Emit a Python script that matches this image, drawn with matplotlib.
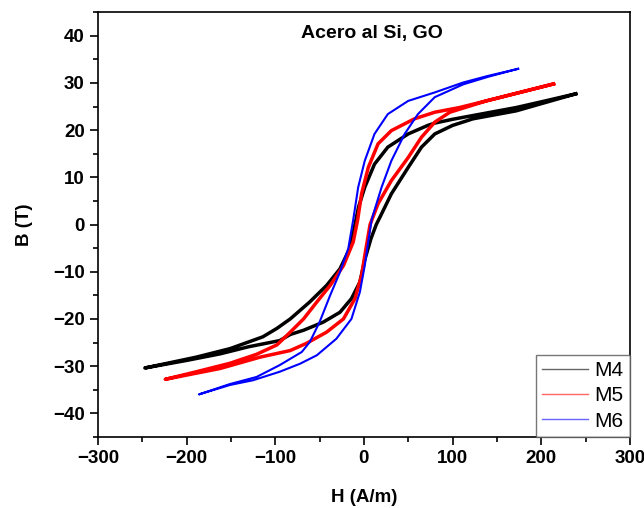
import matplotlib
matplotlib.use("Agg")
import matplotlib.pyplot as plt
from matplotlib.ticker import MultipleLocator

plt.rcParams['font.family'] = ['Liberation Sans', 'DejaVu Sans']

# M4 - upper branch (H decreasing) and lower branch (H increasing)
m4_up_h = [239, 200, 172, 123, 100, 80, 72, 50, 27, 12, 1, -6, -10, -16, -27, -42, -61, -83, -98, -114, -151, -189, -247]
m4_up_b = [27.7, 26.0, 24.8, 23.1, 22.3, 21.5, 21, 19.2, 16.4, 12.8, 7.9, 3.7, 0, -5.1, -9.4, -12.9, -16.4, -20, -22, -23.8, -26.3, -28.1, -30.4]
m4_lo_h = [-247, -200, -162, -130, -95, -83, -68, -46, -27, -14, -4.5, 1, 8, 14, 18, 31, 50, 65, 80, 100, 123, 172, 239]
m4_lo_b = [-30.4, -28.8, -27.4, -25.9, -24.6, -23.3, -22.4, -20.7, -18.6, -15.7, -12.2, -7.5, -3, 0, 1.5, 6.5, 12.1, 16.4, 19.2, 21, 22.4, 24.1, 27.7]

# M5
m5_up_h = [214, 153, 108, 80, 57, 31, 16, 5, -2.6, -7, -12, -23, -38, -53, -68, -83, -98, -121, -151, -189, -224]
m5_up_b = [29.8, 26.9, 24.8, 23.8, 22.4, 19.9, 17.1, 12.1, 6.5, 1, -3.7, -8.7, -12.9, -16.4, -20, -22.8, -25.5, -27.5, -29.4, -31.2, -32.8]
m5_lo_h = [-224, -162, -117, -83, -65, -42, -23, -10, -2.6, 2, 7, 16, 31, 50, 65, 80, 97, 138, 214]
m5_lo_b = [-32.8, -30.5, -28.1, -26.7, -25.2, -22.8, -20, -15.7, -10.8, -5.5, 0, 4.4, 9.3, 14.2, 18.5, 21.7, 23.8, 26.2, 29.8]

# M6
m6_up_h = [174, 140, 112, 80, 50, 27, 12, 1, -6.4, -12, -17.6, -27, -38, -50, -61, -70, -95, -121, -151, -186]
m6_up_b = [33, 31.5, 30.1, 28, 26.2, 23.4, 19.2, 13.5, 7.9, 1, -5.1, -10.1, -15, -20.7, -24.9, -27, -29.8, -32.3, -33.8, -36]
m6_lo_h = [-186, -151, -125, -95, -72, -53, -31, -14, -4.5, 1, 5, 9, 20, 31, 46, 61, 80, 112, 140, 174]
m6_lo_b = [-36, -34, -33, -31.2, -29.5, -27.7, -24.2, -20, -14.3, -8.7, -3.5, 1.2, 7.9, 13.5, 19.2, 23.4, 27, 29.7, 31.3, 33]

fig = plt.figure(figsize=(6.44, 5.08), dpi=100)
ax = fig.add_axes([0.152, 0.140, 0.826, 0.836])

ax.plot(m4_up_h + m4_lo_h, m4_up_b + m4_lo_b, color='black', lw=2.5, label='M4')
ax.plot(m5_up_h + m5_lo_h, m5_up_b + m5_lo_b, color='red', lw=2.5, label='M5')
ax.plot(m6_up_h + m6_lo_h, m6_up_b + m6_lo_b, color='blue', lw=1.5, label='M6')

ax.set_xlim(-300, 300)
ax.set_ylim(-45, 45)
ax.xaxis.set_major_locator(MultipleLocator(100))
ax.xaxis.set_minor_locator(MultipleLocator(50))
ax.yaxis.set_major_locator(MultipleLocator(10))
ax.yaxis.set_minor_locator(MultipleLocator(5))
ax.tick_params(which='major', direction='out', length=6, width=1.2, labelsize=13.5)
ax.tick_params(which='minor', direction='out', length=3.5, width=1.2)
for lab in ax.get_xticklabels() + ax.get_yticklabels():
    lab.set_fontweight('bold')
for sp in ax.spines.values():
    sp.set_linewidth(1.2)

ax.set_xlabel('H (A/m)', fontsize=13.5, fontweight='bold', labelpad=16)
ax.set_ylabel('B (T)', fontsize=13.5, fontweight='bold', labelpad=14)
ax.text(0.515, 0.95, 'Acero al Si, GO', transform=ax.transAxes, ha='center', va='center',
        fontsize=14, fontweight='bold')

leg = ax.legend(loc='lower right', borderaxespad=0, fancybox=False, fontsize=15,
                handlelength=2.2, handletextpad=0.3, labelspacing=0.3, borderpad=0.3)
leg.get_frame().set_edgecolor('#555555')
leg.get_frame().set_linewidth(1.0)
for h in leg.legend_handles:
    h.set_linewidth(1.0)
    h.set_alpha(0.6)

fig.savefig('out.png', dpi=100)
